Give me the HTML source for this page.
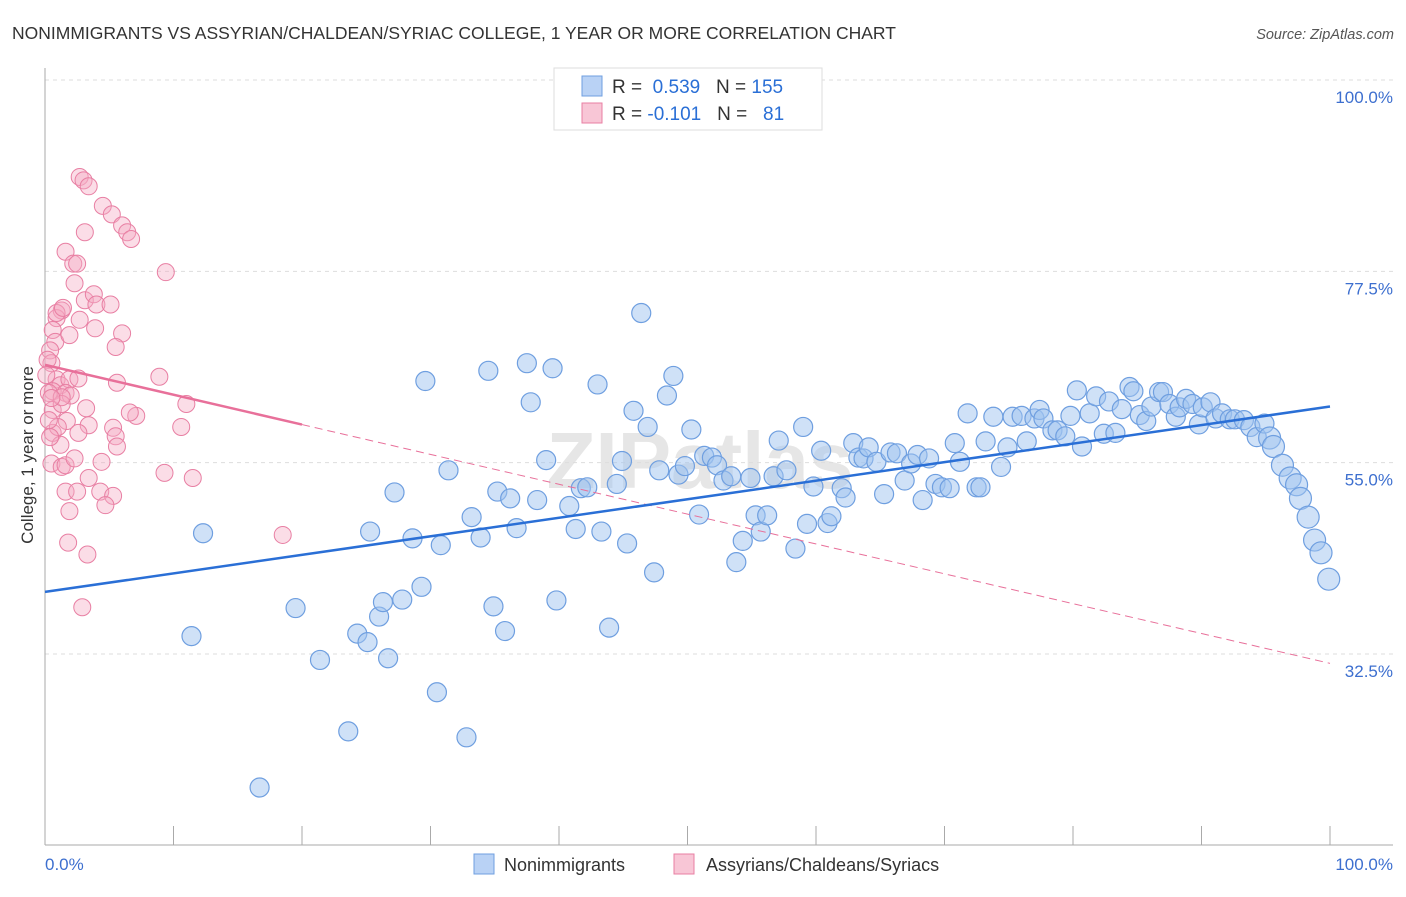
<!DOCTYPE html>
<html><head><meta charset="utf-8"><style>
body{margin:0;background:#fff;font-family:"Liberation Sans",sans-serif}
svg text{font-family:"Liberation Sans",sans-serif}
</style></head><body>
<svg id="chart" width="1406" height="892" viewBox="0 0 1406 892" xmlns="http://www.w3.org/2000/svg">
<text x="12" y="39" font-size="17.5" fill="#333">NONIMMIGRANTS VS ASSYRIAN/CHALDEAN/SYRIAC COLLEGE, 1 YEAR OR MORE CORRELATION CHART</text>
<text x="1394" y="39" font-size="14.5" fill="#555" text-anchor="end" font-style="italic">Source: ZipAtlas.com</text>
<text x="700" y="488" font-size="80" fill="#e6e6e6" text-anchor="middle" font-weight="bold">ZIPatlas</text>
<g id="grid"></g>
<g id="axes"></g>
<g id="pink"></g>
<g id="blue"></g>
<g id="trends"></g>
<text transform="translate(33,455) rotate(-90)" font-size="17" fill="#333" text-anchor="middle">College, 1 year or more</text>
<text x="45" y="870" font-size="17" fill="#3d6fcf">0.0%</text>
<text x="1393" y="870" font-size="17" fill="#3d6fcf" text-anchor="end">100.0%</text>
<g>
<rect x="554" y="68" width="268" height="62" fill="#fff" stroke="#ddd"/>
<rect x="582" y="76" width="20" height="20" fill="#b9d2f5" stroke="#6f9fe0"/>
<rect x="582" y="103" width="20" height="20" fill="#f8c6d6" stroke="#e87fa3"/>
<text x="612" y="93" font-size="19" fill="#333">R = <tspan fill="#2a6fd6">&#160;0.539</tspan>&#160;&#160;&#160;N = <tspan fill="#2a6fd6">155</tspan></text>
<text x="612" y="120" font-size="19" fill="#333">R = <tspan fill="#2a6fd6">-0.101</tspan>&#160;&#160;&#160;N = <tspan fill="#2a6fd6">&#160;&#160;81</tspan></text>
</g>
<g>
<rect x="474" y="854" width="20" height="20" fill="#b9d2f5" stroke="#6f9fe0"/>
<text x="504" y="871" font-size="18" fill="#333">Nonimmigrants</text>
<rect x="674" y="854" width="20" height="20" fill="#f8c6d6" stroke="#e87fa3"/>
<text x="706" y="871" font-size="18" fill="#333">Assyrians/Chaldeans/Syriacs</text>
</g>
</svg>
<script>
const yTicks=[100,77.5,55,32.5];
const yTickLabels=["100.0%","77.5%","55.0%","32.5%"];
const xTicks=[0,10,20,30,40,50,60,70,80,90,100];
const blueX=[12.3,11.4,16.7,19.5,21.4,23.6,24.3,25.1,25.3,26.0,26.3,26.7,27.2,27.8,28.6,29.3,29.6,30.5,30.8,31.4,32.8,33.2,33.9,34.5,34.9,35.2,35.8,36.2,36.7,37.5,37.8,38.3,39.0,39.5,39.8,40.8,41.3,41.7,42.2,43.0,43.3,43.9,44.5,44.9,45.3,45.8,46.4,46.9,47.4,47.8,48.4,48.9,49.3,49.8,50.3,50.9,51.3,51.9,52.3,52.8,53.4,53.8,54.3,54.9,55.3,55.7,56.2,56.7,57.1,57.7,58.4,59.0,59.3,59.8,60.4,60.9,61.2,62.0,62.3,62.9,63.3,63.7,64.1,64.7,65.3,65.8,66.3,66.9,67.4,67.9,68.3,68.8,69.3,69.8,70.4,70.8,71.2,71.8,72.5,72.8,73.2,73.8,74.4,74.9,75.3,76.0,76.4,77.0,77.4,77.7,78.4,78.8,79.4,79.8,80.3,80.7,81.3,81.8,82.4,82.8,83.3,83.8,84.4,84.7,85.2,85.7,86.1,86.7,87.0,87.5,88.0,88.3,88.8,89.3,89.8,90.1,90.7,91.1,91.6,92.2,92.6,93.3,93.8,94.3,94.9,95.3,95.6,96.3,96.9,97.4,97.7,98.3,98.8,99.3,99.9];
const blueY=[46.7,34.6,16.8,37.9,31.8,23.4,34.9,33.9,46.9,36.9,38.6,32.0,51.5,38.9,46.1,40.4,64.6,28.0,45.3,54.1,22.7,48.6,46.2,65.8,38.1,51.6,35.2,50.8,47.3,66.7,62.1,50.6,55.3,66.1,38.8,49.9,47.2,52.0,52.1,64.2,46.9,35.6,52.5,55.2,45.5,61.1,72.6,59.2,42.1,54.1,62.9,65.2,53.6,54.6,58.9,48.9,55.8,55.6,54.7,52.9,53.4,43.3,45.8,53.2,48.8,46.9,48.8,53.4,57.6,54.1,44.9,59.2,47.8,52.2,56.4,47.9,48.7,52.0,50.9,57.3,55.6,55.5,56.8,55.1,51.3,56.2,56.1,52.9,54.9,55.9,50.6,55.5,52.5,52.1,52.0,57.3,55.1,60.8,52.1,52.1,57.5,60.4,54.5,56.8,60.4,60.5,57.5,60.2,61.2,60.2,58.8,58.8,58.1,60.5,63.5,56.9,60.8,62.8,58.4,62.2,58.5,61.3,63.9,63.4,60.6,59.9,61.6,63.3,63.3,61.9,60.4,61.5,62.5,61.9,59.5,61.5,62.1,60.2,60.8,60.1,60.1,60.0,59.2,58.0,59.6,57.9,56.9,54.7,53.2,52.4,50.8,48.6,45.9,44.4,41.3];
const pinkX=[2.7,3.0,3.4,4.5,5.2,6.0,6.4,6.7,3.1,9.4,1.6,2.2,2.5,2.3,3.1,3.8,4.0,5.1,3.9,6.0,5.5,1.3,0.9,0.6,0.8,0.4,0.5,0.9,1.2,0.6,0.3,1.9,1.6,2.6,2.0,5.6,8.9,11.0,0.6,1.3,1.7,0.6,1.0,3.4,2.6,5.3,5.5,5.6,10.6,7.1,0.5,1.3,1.6,2.3,4.4,3.4,9.3,11.5,1.6,2.5,4.3,5.3,4.7,1.9,1.8,3.3,2.9,18.5,0.2,0.9,1.4,0.3,1.2,0.4,3.2,1.3,0.5,2.7,6.6,0.1,1.9];
const pinkY=[88.6,88.2,87.5,85.2,84.2,82.9,82.1,81.3,82.1,77.4,79.8,78.4,78.4,76.1,74.1,74.8,73.6,73.6,70.8,70.2,68.6,72.9,72.0,70.6,69.2,68.2,66.7,64.8,64.1,63.4,63.2,64.8,63.2,64.9,62.9,64.4,65.1,61.9,61.2,61.9,59.9,58.5,59.2,59.4,58.5,59.1,58.1,56.9,59.2,60.5,54.9,54.5,54.7,55.5,55.1,53.2,53.8,53.2,51.6,51.6,51.6,51.1,50.0,49.3,45.6,44.2,38.0,46.5,67.1,72.6,73.2,60.0,57.1,58.0,61.4,62.7,62.6,71.8,60.9,65.3,70.0];
const blueTrend=[39.8,61.6];
const pinkTrend=[66.5,31.4];
const pinkSolidEnd=20;

const NS="http://www.w3.org/2000/svg";
const X0=45,X1=1330,YTOP=80,YBOT=654;
function sx(v){return X0+(X1-X0)*v/100;}
function sy(v){return YTOP+(100-v)*(YBOT-YTOP)/(100-32.5);}
function mk(tag,attrs,parent){const e=document.createElementNS(NS,tag);for(const k in attrs)e.setAttribute(k,attrs[k]);parent.appendChild(e);return e;}
const grid=document.getElementById('grid'),axes=document.getElementById('axes');
yTicks.forEach((t,i)=>{
  const l=mk('line',{x1:X0,x2:1393,y1:sy(t),y2:sy(t),stroke:'#ddd','stroke-dasharray':'4,4'},grid);
  
  
  const tx=mk('text',{x:1393,y:sy(t)+23,'font-size':17,fill:'#3d6fcf','text-anchor':'end'},grid);
  tx.textContent=yTickLabels[i];
  
  
});
const ya=mk('line',{x1:X0,x2:X0,y1:68,y2:845,stroke:'#aaa'},axes);


const xa=mk('line',{x1:X0,x2:1393,y1:845,y2:845,stroke:'#aaa'},axes);


xTicks.forEach(t=>{
  const l=mk('line',{x1:sx(t),x2:sx(t),y1:826,y2:845,stroke:'#aaa'},axes);
  
  
});
const pg=document.getElementById('pink');
pinkX.forEach((v,i)=>{
  const c=mk('circle',{cx:sx(v),cy:sy(pinkY[i]),r:8.5,fill:'rgba(245,170,195,0.4)',stroke:'#e87fa3','stroke-width':1},pg);
  
  
});
const bg=document.getElementById('blue');
blueX.forEach((v,i)=>{
  const c=mk('circle',{cx:sx(v),cy:sy(blueY[i]),r:v>95?11:9.5,fill:'rgba(160,195,240,0.5)',stroke:'#6f9fe0','stroke-width':1.2},bg);
  
  
});
const tg=document.getElementById('trends');
function pinkAt(x){return pinkTrend[0]+(pinkTrend[1]-pinkTrend[0])*x/100;}
const pd=mk('line',{x1:sx(pinkSolidEnd),y1:sy(pinkAt(pinkSolidEnd)),x2:sx(100),y2:sy(pinkTrend[1]),stroke:'#e8709a','stroke-width':1,'stroke-dasharray':'8,5'},tg);


const ps=mk('line',{x1:sx(0),y1:sy(pinkTrend[0]),x2:sx(pinkSolidEnd),y2:sy(pinkAt(pinkSolidEnd)),stroke:'#e8709a','stroke-width':2.5},tg);


const bl=mk('line',{x1:sx(0),y1:sy(blueTrend[0]),x2:sx(100),y2:sy(blueTrend[1]),stroke:'#2a6fd6','stroke-width':2.5},tg);


</script>
</body></html>
